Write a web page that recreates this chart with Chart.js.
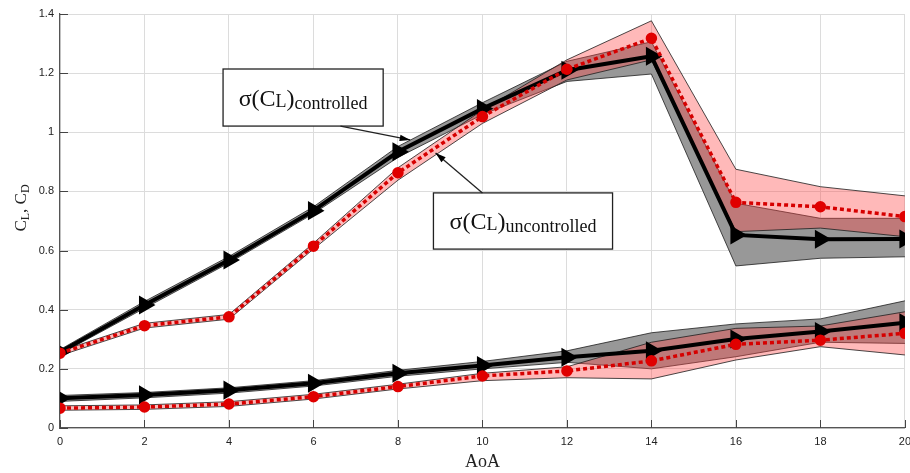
<!DOCTYPE html>
<html>
<head>
<meta charset="utf-8">
<script src="https://cdn.jsdelivr.net/npm/chart.js@4"></script>
<style>
  html, body { margin: 0; padding: 0; background: #fff; overflow: hidden; }
  #wrap { width: 910px; height: 473px; overflow: hidden; }
</style>
</head>
<body>
<div id="wrap"><canvas id="c" width="918" height="473"></canvas></div>
<script>
// angle of attack
const aoa = [0, 2, 4, 6, 8, 10, 12, 14, 16, 18, 20];

// lift, mean and band
const clCtrl   = [0.257, 0.416, 0.568, 0.735, 0.934, 1.080, 1.210, 1.257, 0.653, 0.638, 0.639];
const clCtrlLo = [0.250, 0.405, 0.558, 0.725, 0.915, 1.060, 1.172, 1.197, 0.548, 0.574, 0.579];
const clCtrlHi = [0.265, 0.428, 0.580, 0.748, 0.952, 1.100, 1.240, 1.306, 0.760, 0.709, 0.709];
const clUnc    = [0.253, 0.346, 0.376, 0.615, 0.863, 1.053, 1.213, 1.318, 0.763, 0.748, 0.715];
const clUncLo  = [0.245, 0.338, 0.368, 0.605, 0.838, 1.030, 1.177, 1.245, 0.664, 0.676, 0.647];
const clUncHi  = [0.260, 0.354, 0.384, 0.625, 0.880, 1.075, 1.245, 1.377, 0.875, 0.816, 0.785];

// drag, mean and band
const cdCtrl   = [0.101, 0.112, 0.128, 0.151, 0.185, 0.211, 0.239, 0.261, 0.301, 0.326, 0.356];
const cdCtrlLo = [0.090, 0.102, 0.118, 0.142, 0.175, 0.200, 0.222, 0.200, 0.241, 0.290, 0.286];
const cdCtrlHi = [0.110, 0.120, 0.136, 0.160, 0.195, 0.225, 0.261, 0.322, 0.352, 0.369, 0.430];
const cdUnc    = [0.067, 0.071, 0.081, 0.106, 0.140, 0.176, 0.193, 0.227, 0.283, 0.297, 0.320];
const cdUncLo  = [0.060, 0.063, 0.073, 0.098, 0.132, 0.160, 0.170, 0.166, 0.230, 0.275, 0.247];
const cdUncHi  = [0.075, 0.078, 0.089, 0.114, 0.148, 0.185, 0.207, 0.290, 0.337, 0.345, 0.393];

const xTicks = [0, 2, 4, 6, 8, 10, 12, 14, 16, 18, 20];
const yTicks = [0, 0.2, 0.4, 0.6, 0.8, 1, 1.2, 1.4];

// annotation boxes in data units: [x0, y0, x1, y1], arrow [tailX, tailY, headX, headY]
const notes = [
  { sub: 'controlled',   box: [3.86, 1.214, 7.65, 1.021], arrow: [6.64, 1.021, 8.29, 0.974] },
  { sub: 'uncontrolled', box: [8.84, 0.795, 13.08, 0.605], arrow: [10.0, 0.795, 8.89, 0.930] }
];

const pts = arr => arr.map((v, i) => ({ x: aoa[i], y: v }));

const GREY = 'rgb(152,152,152)';
const PINK = 'rgba(255,70,70,0.38)';
const EDGE = 'rgba(30,30,30,0.8)';

function band(lo, hi, color, ord) {
  return [
    { data: pts(lo), borderColor: EDGE, borderWidth: 1, pointRadius: 0, fill: false, order: ord },
    { data: pts(hi), borderColor: EDGE, borderWidth: 1, pointRadius: 0, fill: '-1', backgroundColor: color, order: ord }
  ];
}
function ctrlLine(vals) {
  return { data: pts(vals), borderColor: '#000', borderWidth: 4, pointStyle: 'triangle', pointRotation: 90,
           pointRadius: 7, pointBackgroundColor: '#000', pointBorderColor: '#000', fill: false, order: 2 };
}
function uncLine(vals) {
  return { data: pts(vals), borderColor: '#d60000', borderWidth: 3.5, borderDash: [4, 3], pointStyle: 'circle',
           pointRadius: 4, pointBackgroundColor: '#e00000', pointBorderColor: '#e00000', fill: false, order: 1 };
}

const datasets = [].concat(
  band(clCtrlLo, clCtrlHi, GREY, 6),
  band(cdCtrlLo, cdCtrlHi, GREY, 6),
  band(clUncLo, clUncHi, PINK, 5),
  band(cdUncLo, cdUncHi, PINK, 5),
  [ctrlLine(clCtrl), ctrlLine(cdCtrl), uncLine(clUnc), uncLine(cdUnc)]
);

const extras = {
  id: 'extras',
  afterDraw(chart) {
    const ctx = chart.ctx;
    const xs = chart.scales.x, ys = chart.scales.y;
    const a = chart.chartArea;
    ctx.save();
    // inner tick marks
    ctx.strokeStyle = '#444';
    ctx.lineWidth = 1;
    xTicks.forEach(t => {
      const px = Math.round(xs.getPixelForValue(t)) + 0.5;
      ctx.beginPath(); ctx.moveTo(px, a.bottom); ctx.lineTo(px, a.bottom - 8); ctx.stroke();
    });
    yTicks.forEach(t => {
      const py = Math.round(ys.getPixelForValue(t)) + 0.5;
      ctx.beginPath(); ctx.moveTo(a.left, py); ctx.lineTo(a.left + 8, py); ctx.stroke();
    });

    // annotation boxes with arrows
    notes.forEach(n => {
      const x0 = xs.getPixelForValue(n.box[0]), y0 = ys.getPixelForValue(n.box[1]);
      const x1 = xs.getPixelForValue(n.box[2]), y1 = ys.getPixelForValue(n.box[3]);
      ctx.fillStyle = '#fff';
      ctx.fillRect(x0, y0, x1 - x0, y1 - y0);
      ctx.strokeStyle = '#222';
      ctx.lineWidth = 1.3;
      ctx.strokeRect(x0, y0, x1 - x0, y1 - y0);

      const tx = xs.getPixelForValue(n.arrow[0]), ty = ys.getPixelForValue(n.arrow[1]);
      const hx = xs.getPixelForValue(n.arrow[2]), hy = ys.getPixelForValue(n.arrow[3]);
      ctx.beginPath(); ctx.moveTo(tx, ty); ctx.lineTo(hx, hy); ctx.stroke();
      const ang = Math.atan2(hy - ty, hx - tx);
      ctx.fillStyle = '#000';
      ctx.beginPath();
      ctx.moveTo(hx, hy);
      ctx.lineTo(hx - 11 * Math.cos(ang - 0.3), hy - 11 * Math.sin(ang - 0.3));
      ctx.lineTo(hx - 11 * Math.cos(ang + 0.3), hy - 11 * Math.sin(ang + 0.3));
      ctx.closePath(); ctx.fill();

      // σ(C_L)_sub
      const big = '24px "Liberation Serif", "Times New Roman", serif';
      const small = '18px "Liberation Serif", "Times New Roman", serif';
      ctx.font = big; const w1 = ctx.measureText('σ(C').width; const w3 = ctx.measureText(')').width;
      ctx.font = small; const w2 = ctx.measureText('L').width; const w4 = ctx.measureText(n.sub).width;
      const total = w1 + w2 + w3 + w4;
      let cx = (x0 + x1) / 2 - total / 2;
      const base = (y0 + y1) / 2 + 8;
      ctx.fillStyle = '#111';
      ctx.textBaseline = 'alphabetic';
      ctx.textAlign = 'left';
      ctx.font = big; ctx.fillText('σ(C', cx, base); cx += w1;
      ctx.font = small; ctx.fillText('L', cx, base + 1); cx += w2;
      ctx.font = big; ctx.fillText(')', cx, base); cx += w3;
      ctx.font = small; ctx.fillText(n.sub, cx, base + 3);
    });

    // axis titles
    ctx.fillStyle = '#222';
    ctx.font = '18px "Liberation Serif", "Times New Roman", serif';
    ctx.textAlign = 'center';
    ctx.textBaseline = 'middle';
    ctx.fillText('AoA', (a.left + a.right) / 2, 462);

    ctx.translate(20, 208);
    ctx.rotate(-Math.PI / 2);
    const parts = [['C', 17, 0], ['L', 12, 3], [', C', 17, 0], ['D', 12, 3]];
    let w = 0;
    parts.forEach(p => { ctx.font = p[1] + 'px "Liberation Serif", serif'; w += ctx.measureText(p[0]).width; });
    let px = -w / 2;
    ctx.textAlign = 'left';
    ctx.textBaseline = 'alphabetic';
    parts.forEach(p => {
      ctx.font = p[1] + 'px "Liberation Serif", serif';
      ctx.fillText(p[0], px, 6 + p[2]);
      px += ctx.measureText(p[0]).width;
    });
    ctx.restore();
  }
};

new Chart(document.getElementById('c'), {
  type: 'line',
  data: { datasets: datasets },
  options: {
    responsive: false,
    animation: false,
    layout: { padding: { top: 14, right: 6, left: 0, bottom: 0 } },
    plugins: { legend: { display: false }, tooltip: { enabled: false } },
    elements: { line: { tension: 0 } },
    scales: {
      x: {
        type: 'linear', min: 0, max: 20,
        afterBuildTicks: s => { s.ticks = xTicks.map(v => ({ value: v })); },
        afterFit: s => { s.height = 45; },
        grid: { color: '#dcdcdc', drawTicks: false },
        border: { color: '#555', width: 1.2 },
        ticks: { padding: 7, color: '#222', font: { family: '"Liberation Sans", Arial', size: 11 }, maxRotation: 0 }
      },
      y: {
        min: 0, max: 1.4,
        afterBuildTicks: s => { s.ticks = yTicks.map(v => ({ value: v })); },
        afterFit: s => { s.width = 60; },
        grid: { color: '#dcdcdc', drawTicks: false },
        border: { color: '#555', width: 1.2 },
        ticks: { padding: 6, color: '#222', font: { family: '"Liberation Sans", Arial', size: 11 },
                 callback: v => String(Math.round(v * 10) / 10) }
      }
    }
  },
  plugins: [extras]
});
</script>
</body>
</html>
